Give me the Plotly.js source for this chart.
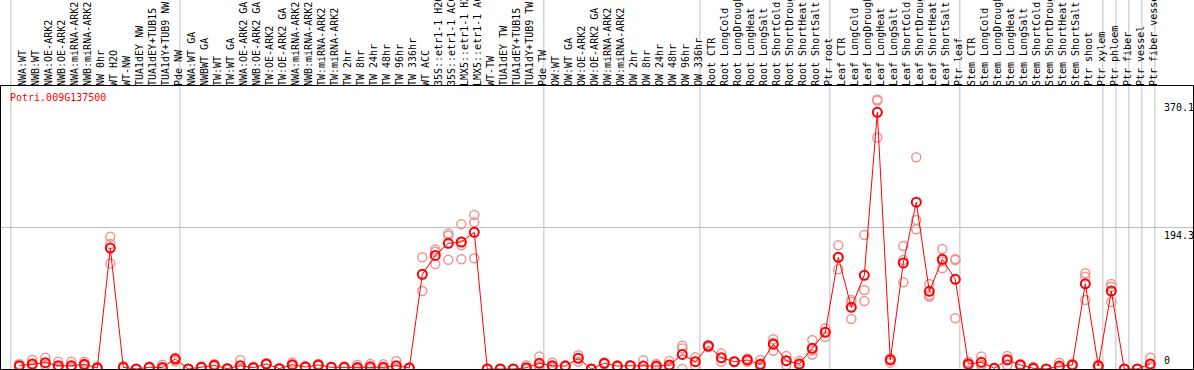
<!DOCTYPE html>
<html>
<head>
<meta charset="utf-8">
<script src="https://cdn.plot.ly/plotly-3.0.1.min.js"></script>
<style>
html,body{margin:0;padding:0;background:#fff;}
#chart{width:1194px;height:370px;}
</style>
</head>
<body>
<div id="chart"></div>
<script>
const geneName = "Potri.009G137500";

const categories = [
  "NWA:WT","NWB:WT","NWA:OE-ARK2","NWB:OE-ARK2","NWA:miRNA-ARK2","NWB:miRNA-ARK2","NW 0hr","WT H2O","WT-NW",
  "TUA1dEY NW","TUA1dEY+TUB15","TUA1dY+TUB9 NW","Pde NW",
  "NWA:WT GA","NWBWT GA","TW:WT","TW:WT GA","NWA:OE-ARK2 GA","NWB:OE-ARK2 GA","TW:OE-ARK2","TW:OE-ARK2 GA",
  "NWA:miRNA-ARK2","NWB:miRNA-ARK2","TW:miRNA-ARK2","TW:miRNA-ARK2","TW 2hr","TW 8hr","TW 24hr","TW 48hr","TW 96hr",
  "TW 336hr","WT ACC","35S::etr1-1 H2O","35S::etr1-1 ACC","LMX5::etr1-1 H2O","LMX5::etr1-1 ACC","WT-TW",
  "TUA1dEY TW","TUA1dEY+TUB15","TUA1dY+TUB9 TW","Pde TW",
  "OW:WT","OW:WT GA","OW:OE-ARK2","OW:OE-ARK2 GA","OW:miRNA-ARK2","OW:miRNA-ARK2","OW 2hr","OW 8hr","OW 24hr",
  "OW 48hr","OW 96hr","OW 336hr",
  "Root CTR","Root LongCold","Root LongDrought","Root LongHeat","Root LongSalt","Root ShortCold","Root ShortDrought",
  "Root ShortHeat","Root ShortSalt","Ptr root",
  "Leaf CTR","Leaf LongCold","Leaf LongDrought","Leaf LongHeat","Leaf LongSalt","Leaf ShortCold","Leaf ShortDrought",
  "Leaf ShortHeat","Leaf ShortSalt","Ptr leaf",
  "Stem CTR","Stem LongCold","Stem LongDrought","Stem LongHeat","Stem LongSalt","Stem ShortCold","Stem ShortDrought",
  "Stem ShortHeat","Stem ShortSalt","Ptr shoot","Ptr xylem",
  "Ptr phloem","Ptr fiber","Ptr vessel","Ptr fiber vessel"
];

const groupSizes = [13, 28, 12, 10, 10, 11, 1, 1, 1, 1];

const meanValues = [
  4.5, 6.9, 8.7, 4.5, 4.5, 6.4, 1.4, 166, 2.3, 0, 2.3, 2, 13.7,
  0, 2.3, 5, 0.5, 4.5, 1.8, 6.9, 0.5, 6, 2.7, 5.5, 2.3, 2.3, 2, 3, 2.3, 4.5,
  1.4, 130, 156, 172.6, 174.4, 187.7, 0, 0, 0, 1.7, 7.8,
  4.5, 4, 14.6, 0, 7.8, 4, 4.5, 4, 4, 5.5, 20, 10,
  31.6, 15.5, 10, 12.4, 6.4, 34, 11.4, 6.9, 28.4, 50.4,
  153.4, 84.7, 128.6, 352.5, 12.4, 145.6, 229, 106.7, 150.6, 123.2,
  6.9, 9.2, 1, 12.4, 5.5, 1, 0, 4, 5.5, 117, 4,
  107, 0, 0, 6.9
];

const rep1 = [
  7, 12.4, 15.5, 10, 10, 10, 3, 181.7, 4, 0, 3.5, 6, 15.5,
  0, 3.5, 7, 1, 12.4, 3, 8, 1, 9, 4, 7, 3, 3.5, 6, 6.9, 6.4, 11,
  2, 153.4, 164, 186, 198.7, 211.5, 0, 0, 0, 5, 17,
  9, 5, 19, 0, 9, 5, 5, 12, 7, 11, 32, 16,
  33, 21.5, 10.5, 14.5, 12.4, 40.8, 18, 11, 39.8, 56,
  170, 94.7, 184, 370.1, 14.7, 169, 290.7, 116.7, 164.8, 151,
  10, 17, 1.5, 17.9, 7, 3, 0, 8.7, 7, 131.4, 6,
  116.7, 0, 0, 15.5
];

const rep2 = [
  3, 4.5, 5.5, 2, 2, 5, 1, 171.7, 2, 0, 2, 0, 15,
  0, 2, 4.5, 0.5, 1, 1.5, 6.9, 0.5, 5, 2.5, 5, 2, 2, 0, 1.5, 0.5, 1.5,
  1.5, 130, 161, 183, 170, 201.4, 0, 0, 0, 0, 4,
  3, 4, 15, 0, 8, 4, 4.5, 0, 3, 3.5, 28, 10,
  31.6, 15, 10, 12.7, 4, 36, 11, 5, 25.4, 51,
  153, 92, 108.5, 368.4, 13.5, 149.7, 204.6, 101.6, 147.7, 149.7,
  6, 6, 1, 13.8, 5, 0, 0, 2, 5, 126.8, 6,
  113, 0, 0, 3
];

const rep3 = [
  3.5, 3.8, 5, 1.5, 1.5, 4.2, 0.2, 145, 1, 0, 1.4, 0, 10.5,
  0, 1.4, 3.5, 0, 0.1, 1, 5.8, 0, 4, 1.6, 4.5, 2, 1.4, 0, 0.6, 0, 1,
  0.7, 107, 144, 150, 150.6, 152, 0, 0, 0, 0, 2.4,
  1.5, 3, 10, 0, 6.4, 3, 4, 0, 2, 2, 0, 4,
  30, 10, 9.5, 10, 3, 25, 5.5, 4.7, 20, 44,
  137, 68.7, 93.4, 318, 8.7, 119, 191.8, 99.3, 138.3, 69.6,
  4.7, 4.6, 0.5, 5.5, 4.5, 0, 0, 1.3, 4.5, 94.7, 0,
  92, 0, 0, 2.2
];

const idx = categories.map((c, i) => i);
const allReps = rep1.concat(rep2, rep3);
const maxVal = Math.max.apply(null, allReps.concat(meanValues));
const yTop = maxVal * 1.05;
const midVal = yTop / 2;

const MONO = "DejaVu Sans Mono, Liberation Mono, monospace";
const repColor = "rgb(238,150,150)";

const repTrace = {
  x: idx.concat(idx, idx),
  y: allReps,
  type: "scatter",
  mode: "markers",
  marker: {symbol: "circle-open", size: 9, color: repColor, line: {width: 1.5, color: repColor}},
  hoverinfo: "skip",
  showlegend: false
};

const meanTrace = {
  x: idx,
  y: meanValues,
  type: "scatter",
  mode: "lines+markers",
  line: {color: "#ff0000", width: 1},
  marker: {symbol: "circle-open", size: 9, color: "#ff0000", line: {width: 2, color: "#ff0000"}},
  showlegend: false
};

// group boundary lines
const shapes = [];
let start = 0;
const boundaries = [];
groupSizes.forEach(n => { boundaries.push(start); start += n; });
boundaries.push(start);
boundaries.forEach(b => {
  shapes.push({
    type: "line", xref: "x", yref: "paper",
    x0: b - 0.65, x1: b - 0.65, y0: 0, y1: 1.4,
    line: {color: "#c0c0c0", width: 1}, layer: "below"
  });
});

const fmt = v => (Math.round(v * 10) / 10).toString();

const annotations = [
  {xref: "paper", yref: "paper", x: 0.006, y: 0.96, xanchor: "left", yanchor: "middle",
   text: geneName, showarrow: false, font: {family: MONO, size: 10, color: "#ff0000"}},
  {xref: "paper", yref: "y", x: 0.974, y: maxVal, xanchor: "left", yanchor: "top", yshift: -1,
   text: fmt(maxVal), showarrow: false, font: {family: MONO, size: 10, color: "#000"}},
  {xref: "paper", yref: "y", x: 0.974, y: midVal, xanchor: "left", yanchor: "top",
   text: fmt(midVal), showarrow: false, font: {family: MONO, size: 10, color: "#000"}},
  {xref: "paper", yref: "y", x: 0.974, y: 0, xanchor: "left", yanchor: "bottom", yshift: 1,
   text: "0", showarrow: false, font: {family: MONO, size: 10, color: "#000"}}
];

const layout = {
  width: 1194, height: 370,
  margin: {l: 1, r: 1, t: 86, b: 1, pad: 0},
  paper_bgcolor: "#ffffff", plot_bgcolor: "#ffffff",
  showlegend: false,
  xaxis: {
    side: "top",
    range: [-1.408, 90.285],
    tickmode: "array", tickvals: idx, ticktext: categories,
    tickangle: -90, ticks: "", ticklen: 0,
    ticklabelshift: 3, ticklabelstandoff: -3,
    tickfont: {family: MONO, size: 10, color: "#000"},
    showgrid: false, zeroline: false,
    showline: true, mirror: true, linecolor: "#000", linewidth: 1,
    automargin: false, fixedrange: true
  },
  yaxis: {
    range: [0, yTop],
    tickmode: "array", tickvals: [midVal],
    showticklabels: false, ticks: "",
    showgrid: true, gridcolor: "#c0c0c0", gridwidth: 1,
    zeroline: false,
    showline: true, mirror: true, linecolor: "#000", linewidth: 1,
    automargin: false, fixedrange: true
  },
  shapes: shapes,
  annotations: annotations
};

Plotly.newPlot("chart", [repTrace, meanTrace], layout, {displayModeBar: false, staticPlot: true});
</script>
</body>
</html>
